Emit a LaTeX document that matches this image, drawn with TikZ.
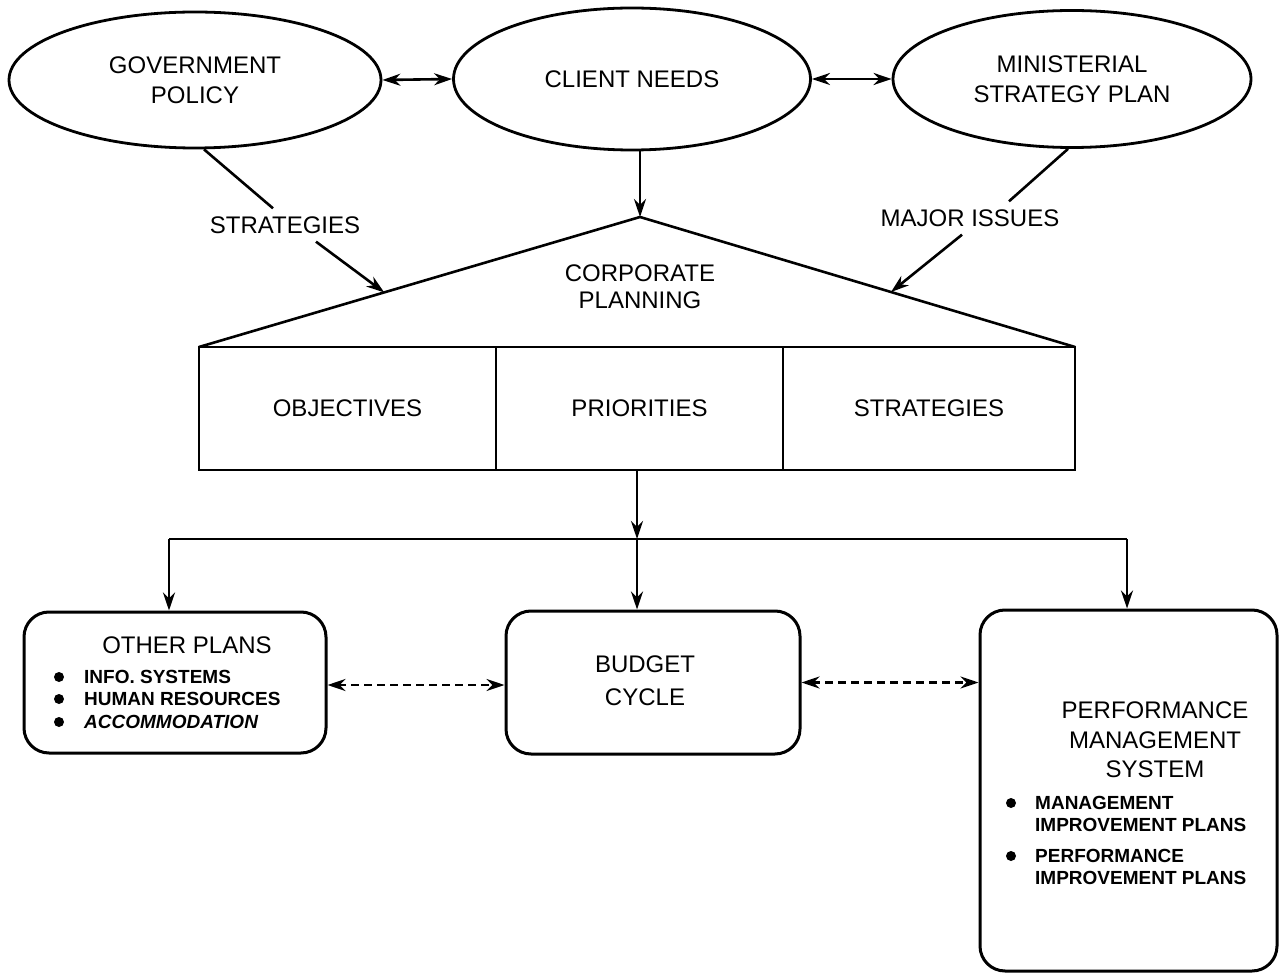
\documentclass[tikz,border=0pt]{standalone}
\usepackage{fontspec}
\setmainfont{Liberation Sans}
\usetikzlibrary{shapes.geometric,arrows.meta,calc}
\begin{document}
\begin{tikzpicture}[x=1pt,y=-1pt,
  every node/.style={font=\fontsize{24}{30}\selectfont, align=center},
  tip/.style={},
  line/.style={line width=2.6pt},
  arr/.style={line width=2.6pt,-{Stealth[length=18pt,width=12pt]}},
  darr/.style={line width=2.6pt,{Stealth[length=18pt,width=12pt]}-{Stealth[length=18pt,width=12pt]}},
  dasharr/.style={darr, dash pattern=on 8pt off 5pt},
  oval/.style={ellipse, draw, line width=2.8pt, inner sep=0pt},
  cell/.style={rectangle, draw, line width=2.6pt, minimum height=123pt, inner sep=0pt},
  rbox/.style={rectangle, rounded corners=25pt, draw, line width=3pt, inner sep=0pt},
  small/.style={font=\bfseries\fontsize{19}{22.5}\selectfont, align=left, anchor=west, inner sep=0pt},
  dot/.style={circle, fill, inner sep=0pt, minimum size=10pt},
]
\useasboundingbox (0,0) rectangle (1282,973);

% top ellipses
\node[oval, minimum width=372pt, minimum height=136pt] (gov) at (195,80) {GOVERNMENT\\POLICY};
\node[oval, minimum width=357pt, minimum height=142pt] (client) at (632,79) {CLIENT NEEDS};
\node[oval, minimum width=358pt, minimum height=137pt] (min) at (1072,79) {MINISTERIAL\\STRATEGY PLAN};
\draw[darr] (gov.east) -- (client.west);
\draw[darr] (client.east) -- (min.west);

% corporate planning roof
\coordinate (apex) at (640,217);
\coordinate (bl) at (199,347);
\coordinate (br) at (1075,347);
\draw[line, line join=miter] (bl) -- (apex) -- (br);
\node[font=\fontsize{24}{27}\selectfont] (corp) at (640,287) {CORPORATE\\PLANNING};

% cells
\node[cell, minimum width=297pt] (obj) at (347.5,408.5) {OBJECTIVES};
\node[cell, minimum width=287pt] (pri) at (639.5,408.5) {PRIORITIES};
\node[cell, minimum width=292pt] (str) at (929,408.5) {STRATEGIES};

% inputs
\draw[arr] (apex |- client.south) -- (apex);
\node[inner sep=8pt] (lab1) at (285,225) {STRATEGIES};
\node[inner sep=8pt] (lab2) at (970,218) {MAJOR ISSUES};
\coordinate (tl) at ($(apex)!0.58!(bl)$);
\coordinate (tr) at ($(apex)!0.577!(br)$);
\draw[line] ([xshift=9pt]gov.south) -- ([xshift=-12pt]lab1.north);
\draw[arr] ([xshift=31pt]lab1.south) -- (tl);
\draw[line] ([xshift=-4pt]min.south) -- ([xshift=39pt]lab2.north);
\draw[arr] ([xshift=-8pt]lab2.south) -- (tr);

% lower boxes
\node[rbox, minimum width=302pt, minimum height=141pt] (op) at (175,682.5) {};
\node[rbox, minimum width=294pt, minimum height=143pt] (bud) at (653,682.5) {};
\node[rbox, minimum width=297pt, minimum height=361pt] (pms) at (1128.5,790.5) {};

% branching
\coordinate (j) at (637,539);
\coordinate (jl) at (169,539);
\coordinate (jr) at (1127,539);
\draw[arr] (pri.south -| j) -- (j);
\draw[line] (jl) -- (jr);
\draw[arr] (jl) -- (jl |- op.north);
\draw[arr] (j) -- (j |- bud.north);
\draw[arr] (jr) -- (jr |- pms.north);

\draw[dasharr] ([yshift=-2.5pt]op.east) -- ([yshift=-2.5pt]bud.west);
\draw[dasharr] (bud.east) -- (bud.east -| pms.west);

% other plans text
\node (opt) at (187,645) {OTHER PLANS};
\node[dot] (d1) at (59,677) {};
\node[dot] (d2) at (59,699) {};
\node[dot] (d3) at (59,722) {};
\node[small] (op1) at (84,677) {INFO. SYSTEMS};
\node[small] (op2) at (84,699) {HUMAN RESOURCES};
\node[small, font=\bfseries\itshape\fontsize{19}{22.5}\selectfont] (op3) at (84,722) {ACCOMMODATION};

% budget text
\node[font=\fontsize{24}{33}\selectfont] (budt) at (645,681) {BUDGET\\CYCLE};

% PMS text
\node[font=\fontsize{24}{29.5}\selectfont] (pmst) at (1155,740) {PERFORMANCE\\MANAGEMENT\\SYSTEM};
\node[dot] (d4) at (1011,803) {};
\node[dot] (d5) at (1011,856) {};
\node[small] (pm1) at (1035,814) {MANAGEMENT\\IMPROVEMENT PLANS};
\node[small] (pm2) at (1035,867) {PERFORMANCE\\IMPROVEMENT PLANS};
\end{tikzpicture}
\end{document}
